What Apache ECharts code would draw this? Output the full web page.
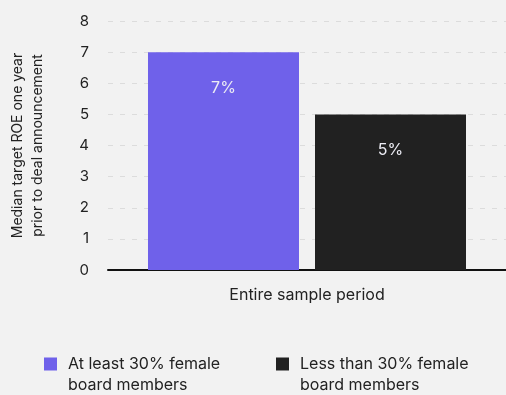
<!DOCTYPE html>
<html>
<head>
<meta charset="utf-8">
<script src="https://cdn.jsdelivr.net/npm/echarts@6/dist/echarts.min.js"></script>
<style>
  html, body { margin: 0; padding: 0; background: #f2f2f2; }
  #chart { width: 506px; height: 395px; }
</style>
</head>
<body>
<div id="chart"></div>
<script>
// Median target ROE one year before deal announcement, by board composition
const categories = ['Entire sample period'];
const seriesNames = ['At least 30% female\nboard members', 'Less than 30% female\nboard members'];
const atLeast30 = [7];
const lessThan30 = [5];
const yTicks = [0, 1, 2, 3, 4, 5, 6, 7, 8];

const FONT = 'Inter, Roboto, "DejaVu Sans", sans-serif';
const colors = ['#6f61ea', '#212121'];

const chart = echarts.init(document.getElementById('chart'), null, { renderer: 'canvas' });

const barLabel = {
  show: true,
  position: 'insideTop',
  distance: 28,
  color: '#ececf4',
  fontSize: 16,
  fontFamily: FONT,
  formatter: p => p.value + '%'
};

// Two-line legend text; a spacer line on top keeps the swatch level with the first line
const legendFormatter = name =>
  '{t| }\n' + name.split('\n').map(s => '{t|' + s + '}').join('\n');

const legendText = {
  color: '#222',
  fontSize: 16,
  fontFamily: FONT,
  rich: {
    t: { color: '#222', fontSize: 16, fontFamily: FONT, lineHeight: 21, padding: [0, 0, 0, 6] }
  }
};

const legendBase = {
  padding: 0,
  icon: 'rect',
  itemWidth: 13,
  itemHeight: 13,
  itemGap: 0,
  formatter: legendFormatter,
  textStyle: legendText
};

chart.setOption({
  backgroundColor: '#f2f2f2',
  animation: false,
  grid: { left: 107, right: 0, top: 21, bottom: 125, containLabel: false },
  legend: [
    Object.assign({ data: [seriesNames[0]], left: 44, top: 335 }, legendBase),
    Object.assign({ data: [seriesNames[1]], left: 276, top: 335 }, legendBase)
  ],
  xAxis: {
    type: 'category',
    data: categories,
    axisLine: { show: true, lineStyle: { color: '#111', width: 2 } },
    axisTick: { show: false },
    axisLabel: { color: '#222', fontSize: 16, fontFamily: FONT, margin: 17 }
  },
  yAxis: {
    type: 'value',
    min: yTicks[0],
    max: yTicks[yTicks.length - 1],
    interval: 1,
    name: 'Median target ROE one year\nprior to deal announcement',
    nameLocation: 'middle',
    nameRotate: 90,
    nameGap: 60,
    nameTextStyle: { color: '#222', fontSize: 14, fontFamily: FONT, lineHeight: 20 },
    axisLine: { show: false },
    axisTick: { show: false },
    axisLabel: { color: '#222', fontSize: 15, fontFamily: FONT, margin: 19 },
    splitLine: { show: true, lineStyle: { color: '#dcdcdc', type: [5, 7], width: 1 } }
  },
  series: [
    {
      name: seriesNames[0],
      type: 'bar',
      data: atLeast30,
      barWidth: 151,
      barGap: '10.6%',
      itemStyle: { color: colors[0] },
      label: barLabel
    },
    {
      name: seriesNames[1],
      type: 'bar',
      data: lessThan30,
      barWidth: 151,
      barGap: '10.6%',
      itemStyle: { color: colors[1] },
      label: barLabel
    }
  ]
});
</script>
</body>
</html>
